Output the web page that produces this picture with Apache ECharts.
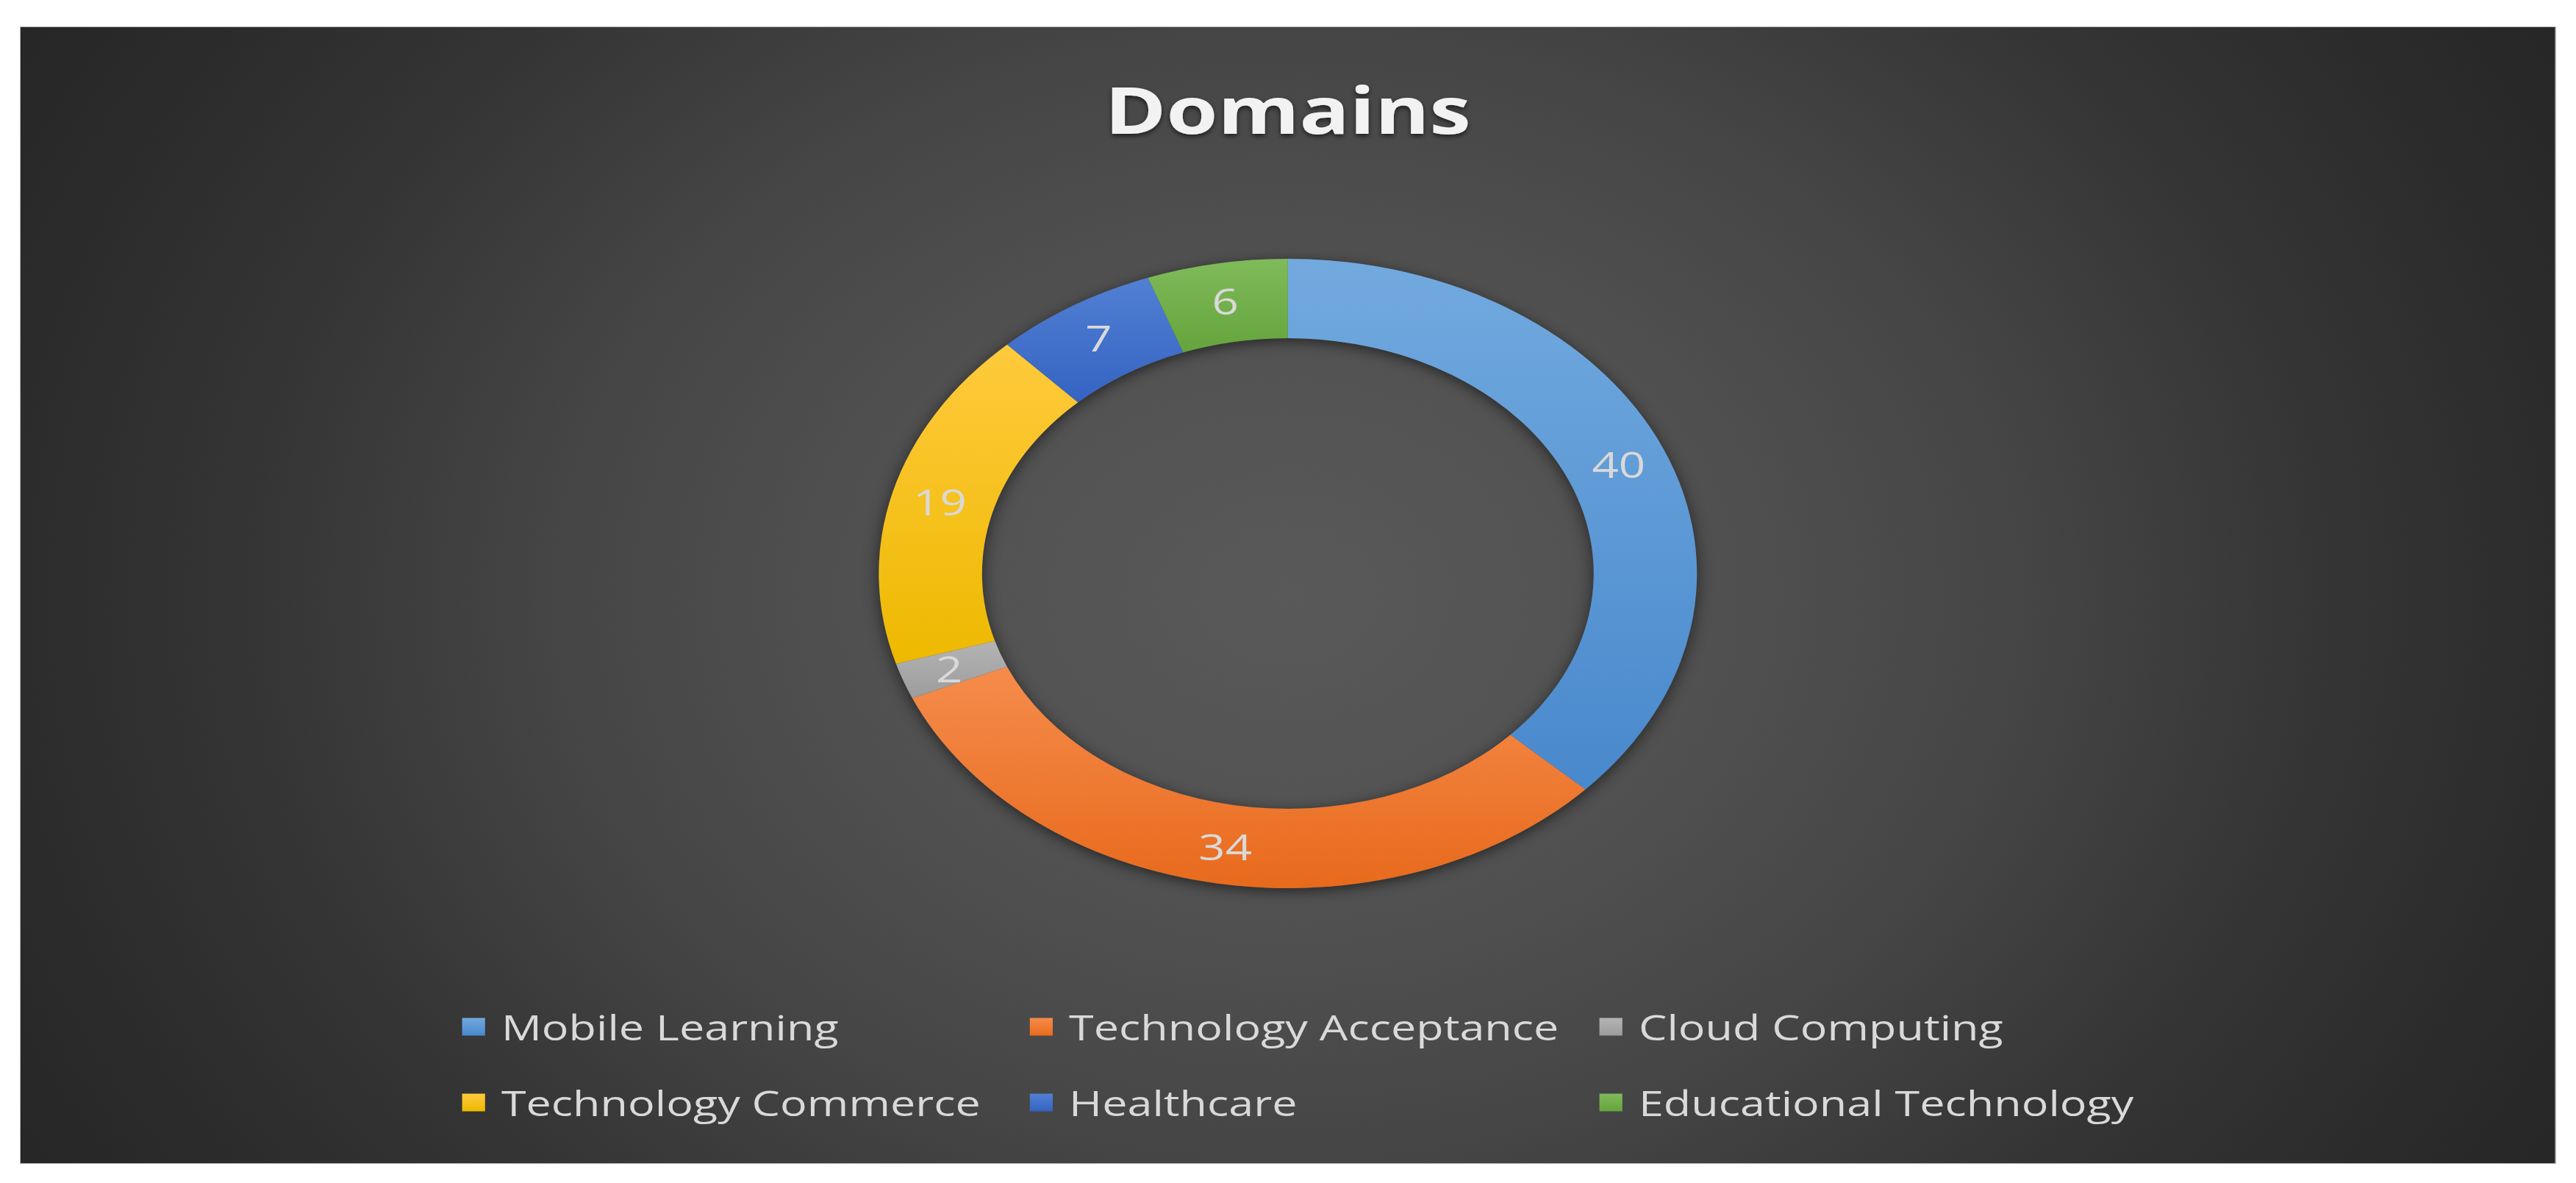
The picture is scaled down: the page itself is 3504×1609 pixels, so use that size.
<!DOCTYPE html>
<html>
<head>
<meta charset="utf-8">
<script src="https://cdn.jsdelivr.net/npm/echarts/dist/echarts.min.js"></script>
<style>
  html, body { margin: 0; padding: 0; background: #ffffff; }
  #frame {
    position: absolute; left: 28px; top: 37px;
    width: 3448px; height: 1545px; overflow: hidden;
    box-shadow: 0 0 0 1px #b4b4b4;
  }
  /* the reference picture is stretched sideways, so the chart is drawn narrow and widened */
  #main {
    width: 2652px; height: 1545px;
    transform: scaleX(1.3); transform-origin: 0 0;
    background: radial-gradient(circle 1545px at 50% 50%, #595959 0%, #505050 30%, #454545 50%, #353535 70%, #2c2c2c 86%, #262626 100%);
  }
</style>
</head>
<body>
<div id="frame"><div id="main"></div></div>
<script>
var titleText = 'Domains';
var categories = ['Mobile Learning', 'Technology Acceptance', 'Cloud Computing', 'Technology Commerce', 'Healthcare', 'Educational Technology'];
var values = [40, 34, 2, 19, 7, 6];
// top / bottom colour of each slice's gradient
var topColors = ['#72aadf', '#f58c4c', '#b4b4b4', '#ffca3c', '#5180d4', '#7fbb5a'];
var bottomColors = ['#4888cc', '#e86a1c', '#9c9c9c', '#edb900', '#3563c2', '#65a43c'];
// legend laid out in three columns
var legendCols = [
  ['Mobile Learning', 'Technology Commerce'],
  ['Technology Acceptance', 'Healthcare'],
  ['Cloud Computing', 'Educational Technology']
];

var font = 'Open Sans';
var textColor = '#d9d9d9';

var pieData = categories.map(function (name, i) {
  return {
    name: name,
    value: values[i],
    itemStyle: {
      color: new echarts.graphic.LinearGradient(0, 0, 0, 1, [
        {offset: 0, color: topColors[i]},
        {offset: 1, color: bottomColors[i]}
      ])
    }
  };
});

var legendLefts = [457, 1051, 1647];
var legends = legendCols.map(function (col, i) {
  return {
    orient: 'vertical',
    left: legendLefts[i],
    top: 1331,
    itemGap: 56,
    itemWidth: 24,
    itemHeight: 24,
    icon: 'rect',
    selectedMode: false,
    textStyle: {
      fontFamily: font,
      fontSize: 47,
      color: textColor,
      padding: [0, 0, 0, 12]
    },
    data: col
  };
});

var option = {
  animation: false,
  backgroundColor: 'transparent',
  title: {
    text: titleText,
    left: 'center',
    top: 63,
    textStyle: {
      fontFamily: font,
      fontWeight: 'bold',
      fontSize: 87,
      color: '#f2f2f2',
      textShadowColor: 'rgba(0,0,0,0.6)',
      textShadowBlur: 6,
      textShadowOffsetY: 3
    }
  },
  legend: legends,
  series: [
    {
      // plain ring underneath, only for the soft shadow
      name: 'shadow',
      type: 'pie',
      silent: true,
      center: ['50%', 743],
      radius: [320, 428],
      label: {show: false},
      labelLine: {show: false},
      itemStyle: {
        color: '#4d4d4d',
        shadowColor: 'rgba(0,0,0,0.55)',
        shadowBlur: 18,
        shadowOffsetY: 4
      },
      data: [{name: '', value: 1}]
    },
    {
      name: titleText,
      type: 'pie',
      center: ['50%', 743],
      radius: [320, 428],
      startAngle: 90,
      clockwise: true,
      avoidLabelOverlap: false,
      emphasis: {scale: false},
      label: {
        show: true,
        position: 'inside',
        formatter: '{c}',
        fontFamily: font,
        fontSize: 49,
        color: textColor
      },
      labelLine: {show: false},
      data: pieData
    }
  ]
};

var chart = echarts.init(document.getElementById('main'), null, {renderer: 'svg'});
chart.setOption(option);
</script>
</body>
</html>
